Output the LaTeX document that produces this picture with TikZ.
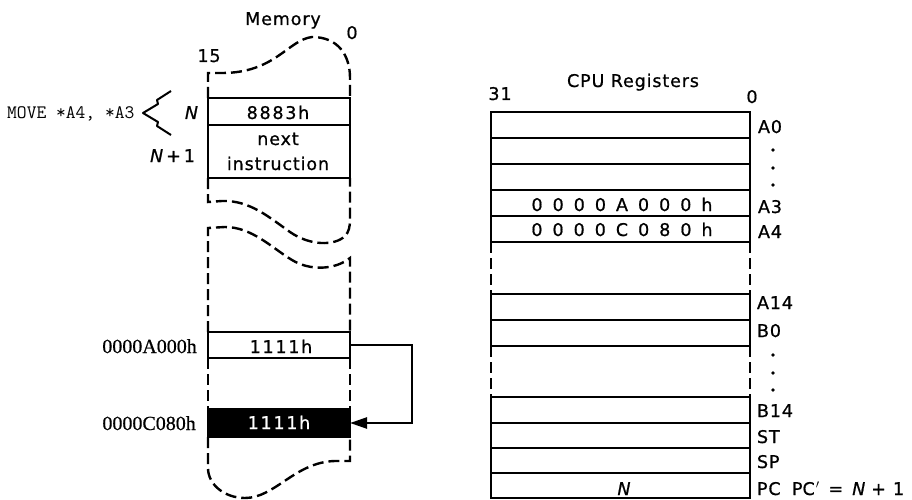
\documentclass[tikz,border=0pt]{standalone}
\usepackage{fontspec}
\setmainfont{DejaVu Sans}
\newfontfamily\hv[LetterSpace=5,FakeBold=0.8]{DejaVu Sans}
\newfontfamily\hvw[LetterSpace=10,FakeBold=0.8]{DejaVu Sans}
\newfontfamily\hvn[FakeBold=0.8]{DejaVu Sans}
\newfontfamily\addrfont[FakeBold=0.6]{Liberation Serif}
\usetikzlibrary{arrows.meta}
\newcommand\rgap{\hspace{10pt}}
\tikzset{
  dsh/.style={line width=2.4pt, dash pattern=on 11pt off 5pt},
  box/.style={draw, line width=2.4pt, inner sep=0pt, outer sep=0pt},
  memrow/.style={box, minimum width=142pt},
  regrow/.style={box, minimum width=259pt},
  lab/.style={font=\hv\fontsize{17.5}{21}\selectfont, inner sep=0pt, outer sep=0pt, anchor=base},
  labw/.style={lab, font=\hvw\fontsize{17.5}{21}\selectfont},
  labn/.style={lab, font=\hvn\fontsize{17.5}{21}\selectfont},
  rlab/.style={lab, anchor=base west},
  addr/.style={font=\addrfont\fontsize{20}{22}\selectfont, inner sep=0pt, anchor=base east},
  code/.style={font=\ttfamily\addfontfeature{FakeBold=1.5}\fontsize{19}{22}\selectfont, inner sep=0pt, anchor=base west},
  dotm/.style={fill=black},
}
\begin{document}
\begin{tikzpicture}[x=1pt,y=-1pt]
\useasboundingbox (0,0) rectangle (912,500);

% ---------------- Memory ----------------
\node[memrow, minimum height=27pt] (mN) at (279,111.5) {};
\node[memrow, minimum height=53pt] (mNext) at (279,151.5) {};
\node[memrow, minimum height=26pt] (mA) at (279,345) {};
\node[memrow, minimum height=28pt, fill=black] (mC) at (279,423) {};

\draw[dsh] (mN.north west) -- (208,73) -- (222,73) .. controls (275,73) and (288,40) .. (312,37)
  .. controls (338,37) and (350,55) .. (350,78) -- (mN.north east);
\draw[dsh] (mNext.south west) -- (208,202) -- (222,201) .. controls (250,200) and (270,218) .. (290,232)
  .. controls (310,246) and (335,246) .. (345,236) .. controls (349,232) and (350,226) .. (350,220) -- (mNext.south east);
\draw[dsh] (mA.north west) -- (208,228) -- (225,227) .. controls (252,227) and (272,248) .. (292,260)
  .. controls (310,271) and (335,270) .. (350,258) -- (mA.north east);
\draw[dsh] (mA.south west) -- (mC.north west);
\draw[dsh] (mA.south east) -- (mC.north east);
\draw[dsh] (mC.south west) -- (208,468) .. controls (208,485) and (225,498) .. (245,498)
  .. controls (275,498) and (295,462) .. (335,461) -- (350,461) -- (mC.south east);

\node[lab] (tMem) at (283,25) {Memory};
\node[lab] (tm0) at (352,39) {0};
\node[lab] (tm15) at (209,62) {15};
\node[labw] (t8883) at (278,119) {8883h};
\node[lab] (tNext) at (278,145) {next};
\node[lab] (tInstr) at (278,170) {instruction};
\node[labn, anchor=base east] (tN) at (198,119) {\itshape N};
\node[labn, anchor=base east] (tN1) at (195,162) {\itshape N\upshape\hspace{3pt}+\hspace{3pt}1};
\node[code] (tMove) at (7,119) {MOVE *A4, *A3};
\draw[line width=2pt, line join=round] (171,91) -- (157,100) -- (158,104) -- (143,113) -- (158,122) -- (157,126) -- (171,135);

\node[addr] (tAa) at (197,353) {0000A000h};
\node[addr] (tAc) at (196,430) {0000C080h};
\node[labw] (t1111a) at (281,353) {1111h};
\node[labw, text=white] (t1111c) at (279,429) {1111h};

\draw[line width=2.4pt, -{Triangle[length=17pt,width=11pt]}] (mA.east) -- ++(62,0) |- (mC.east);

% ---------------- CPU Registers ----------------
\node[regrow, minimum height=26pt] (rA0) at (620.5,125) {};
\node[regrow, minimum height=26pt] (r1) at (620.5,151) {};
\node[regrow, minimum height=26pt] (r2) at (620.5,177) {};
\node[regrow, minimum height=26pt] (rA3) at (620.5,203) {};
\node[regrow, minimum height=26pt] (rA4) at (620.5,229) {};
\node[regrow, minimum height=26pt] (rA14) at (620.5,307) {};
\node[regrow, minimum height=26pt] (rB0) at (620.5,333) {};
\node[regrow, minimum height=26pt] (rB14) at (620.5,410) {};
\node[regrow, minimum height=25pt] (rST) at (620.5,435.5) {};
\node[regrow, minimum height=25pt] (rSP) at (620.5,460.5) {};
\node[regrow, minimum height=25pt] (rPC) at (620.5,485.5) {};

\draw[dsh] (rA4.south west) -- (rA14.north west);
\draw[dsh] (rA4.south east) -- (rA14.north east);
\draw[dsh] (rB0.south west) -- (rB14.north west);
\draw[dsh] (rB0.south east) -- (rB14.north east);

\node[lab] (tCPU) at (633,87) {CPU Registers};
\node[lab] (t31) at (500,100) {31};
\node[lab] (tr0) at (752,103) {0};

\node[labn] (vA3) at (622,211) {0\rgap0\rgap0\rgap0\rgap A\rgap0\rgap0\rgap0\rgap h};
\node[labn] (vA4) at (622,236) {0\rgap0\rgap0\rgap0\rgap C\rgap0\rgap8\rgap0\rgap h};
\node[labn] (vPC) at (624,495) {\itshape N};

\node[rlab] (lA0) at (758,133) {A0};
\node[rlab] (lA3) at (758,213) {A3};
\node[rlab] (lA4) at (758,238) {A4};
\node[rlab] (lA14) at (757,309) {A14};
\node[rlab] (lB0) at (757,337) {B0};
\node[rlab] (lB14) at (757,417) {B14};
\node[rlab] (lST) at (757,443) {ST};
\node[rlab] (lSP) at (757,468) {SP};
\node[rlab] (lPC) at (757,495) {PC};
\node[labn, anchor=base west] (lPCp) at (792,495) {PC\hspace{1pt}$'$\hspace{9pt}=\hspace{9pt}\textit{N}\hspace{6pt}+\hspace{7pt}1};

\fill[dotm] (773,150) circle (1.8pt);
\fill[dotm] (773,168) circle (1.8pt);
\fill[dotm] (773,185) circle (1.8pt);
\fill[dotm] (773,355) circle (1.8pt);
\fill[dotm] (773,373) circle (1.8pt);
\fill[dotm] (773,390) circle (1.8pt);
\end{tikzpicture}
\end{document}
